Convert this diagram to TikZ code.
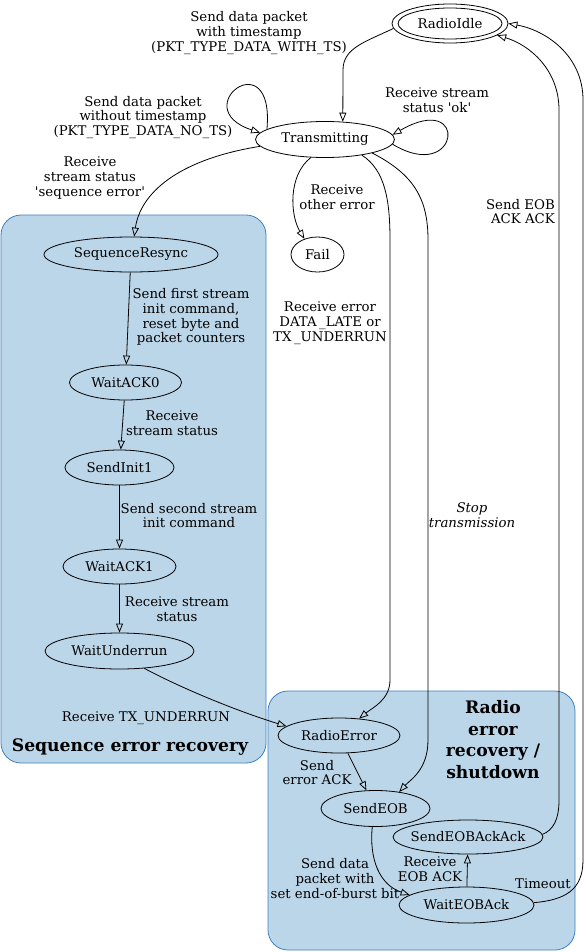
\documentclass[tikz,border=0pt]{standalone}
\usepackage{fontspec}
\newfontfamily\dv{DejaVu Serif}
\usetikzlibrary{arrows.meta,shapes.geometric}
\definecolor{clfill}{RGB}{188,214,233}
\definecolor{clborder}{RGB}{62,128,192}
\newcommand\lab{\dv\fontsize{13.3}{14.7}\selectfont}
\newcommand\clab{\dv\bfseries\fontsize{17.2}{21.6}\selectfont}
\newcommand\zc[1]{\makebox[0pt]{#1}}
\begin{document}
\begin{tikzpicture}[x=1pt,y=-1pt,
  st/.style={draw, ellipse, inner sep=0pt, minimum height=35pt, line width=0.8pt, font=\lab},
  lb/.style={align=center, inner sep=0pt, font=\lab},
  cl/.style={draw=clborder, fill=clfill, rounded corners=20pt, line width=0.8pt},
  arr/.style={-{Triangle[open,length=9pt,width=7pt]}, line width=0.8pt}]
\useasboundingbox (0,0) rectangle (586,952);
% clusters
\draw[cl] (1,215) rectangle (266,763);
\draw[cl] (268,691) rectangle (575,950);
\node[font=\clab, inner sep=0pt] (cla) at (130,747) {Sequence error recovery};
\node[font=\clab, inner sep=0pt, align=center] (clb) at (493,739.5) {Radio\\error\\recovery /\\shutdown};
% states
\node[st, minimum width=116pt, minimum height=39pt] (idle) at (450,23.5) {\zc{RadioIdle}};
\draw[line width=0.8pt] (idle.center) ellipse [x radius=52pt, y radius=15.5pt];
\node[st, minimum width=139pt, minimum height=36pt] (tx) at (325,139.5) {\zc{Transmitting}};
\node[st, minimum width=53pt] (fail) at (317.5,254.5) {\zc{Fail}};
\node[st, minimum width=174pt] (sr) at (131,254.5) {\zc{SequenceResync}};
\node[st, minimum width=112pt] (w0) at (125.5,382.5) {\zc{WaitACK0}};
\node[st, minimum width=109pt] (si1) at (119.5,467.5) {\zc{SendInit1}};
\node[st, minimum width=113pt] (w1) at (119.5,566.5) {\zc{WaitACK1}};
\node[st, minimum width=149pt, minimum height=36pt] (wu) at (119.5,651) {\zc{WaitUnderrun}};
\node[st, minimum width=122pt] (re) at (339,735.5) {\zc{RadioError}};
\node[st, minimum width=109pt, minimum height=36pt] (eob) at (375.5,808.5) {\zc{SendEOB}};
\node[st, minimum width=150pt, minimum height=34pt] (ack) at (468,837) {\zc{SendEOBAckAck}};
\node[st, minimum width=135pt, minimum height=36pt] (wack) at (466.5,905) {\zc{WaitEOBAck}};
% labels
\node[lb] (l1) at (249,33) {Send data packet\\with timestamp\\(PKT\_TYPE\_DATA\_WITH\_TS)};
\node[lb] (l2) at (143,117.5) {Send data packet\\without timestamp\\(PKT\_TYPE\_DATA\_NO\_TS)};
\node[lb] (l3) at (437,100) {Receive stream\\status 'ok'};
\node[lb] (l4) at (90,178) {Receive\\stream status\\'sequence error'};
\node[lb] (l5) at (337,197) {Receive\\other error};
\node[lb] (l6) at (330,323) {Receive error\\DATA\hspace{2.5pt}\_LATE or\\TX\hspace{2.5pt}\_UNDERRUN};
\node[lb, font=\lab\itshape] (l7) at (472,515) {Stop\\transmission};
\node[lb, align=right, anchor=east] (l8) at (555,211.5) {Send EOB\\ACK ACK};
\node[lb] (l9) at (191,317) {Send first stream\\init command,\\reset byte and\\packet counters};
\node[lb] (l10) at (172,423.5) {Receive\\stream status};
\node[lb] (l11) at (189,515.5) {Send second stream\\init command};
\node[lb] (l12) at (177,609) {Receive stream\\status};
\node[lb] (l13) at (146,718) {Receive TX\_UNDERRUN};
\node[lb] (l14) at (317,772.5) {Send\\error ACK};
\node[lb] (l15) at (335,878.5) {Send data\\packet with\\set end-of-burst bit};
\node[lb] (l16) at (430,869.5) {Receive\\EOB ACK};
\node[lb] (l17) at (543,884) {Timeout};
% edges
\draw[arr] (idle.185) .. controls (365,42) and (343,48) .. (343,70) -- (tx.45);
\draw[arr] (tx.170) .. controls (275,40) and (185,108) .. (tx.174);
\draw[arr] (tx.-4) .. controls (460,185) and (470,90) .. (tx.4);
\draw[arr] (tx.186) .. controls (175,160) and (140,195) .. (sr.80);
\draw[arr] (tx.232) .. controls (288,175) and (290,215) .. (fail.130);
\draw[arr] (tx.337) .. controls (385,170) and (390,200) .. (390,240) -- (390,680) .. controls (390,700) and (372,708) .. (re.40);
\draw[arr] (tx.344) .. controls (415,175) and (428,200) .. (428,240) -- (428,740) .. controls (428,770) and (410,780) .. (eob.35);
\draw[arr] (ack.2) .. controls (553,830) and (559,820) .. (559,800) -- (559,110) .. controls (559,70) and (530,45) .. (idle.-14);
\draw[arr] (wack.2) .. controls (565,900) and (583,890) .. (583,860) -- (583,100) .. controls (583,55) and (545,30) .. (idle.0);
\draw[arr] (sr) -- (w0);
\draw[arr] (w0) -- (si1);
\draw[arr] (si1) -- (w1);
\draw[arr] (w1) -- (wu);
\draw[arr] (wu.325) .. controls (185,690) and (240,712) .. (re.170);
\draw[arr] (re) -- (eob);
\draw[arr] (eob.260) .. controls (369,860) and (380,885) .. (wack.170);
\draw[arr] (wack) -- (ack);
\end{tikzpicture}
\end{document}
